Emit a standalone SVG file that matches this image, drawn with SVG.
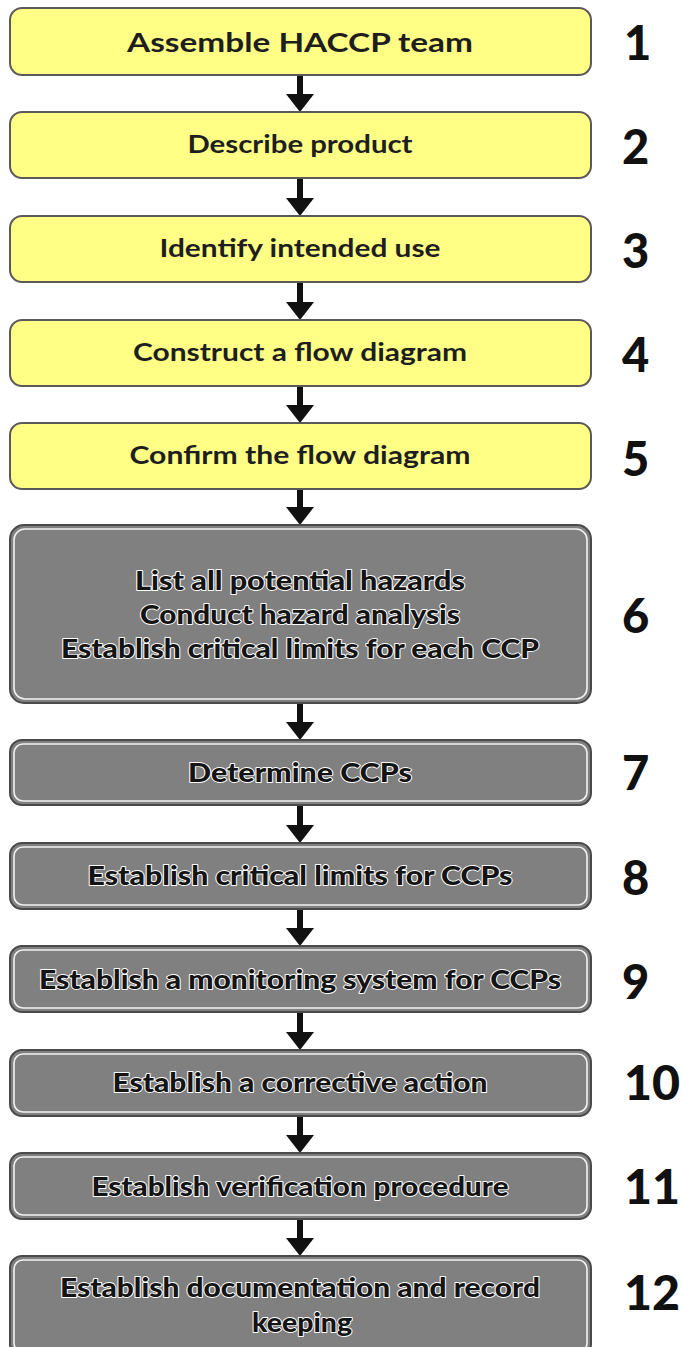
<svg xmlns="http://www.w3.org/2000/svg" width="683" height="1347" viewBox="0 0 683 1347">
  <style>
    .yel { fill: #ffff86; stroke: #5a5a5a; stroke-width: 2; }
    .gry { fill: #808080; stroke: #4a4a4a; stroke-width: 2; }
    .gin { fill: none; stroke: #f2f2f2; stroke-width: 1.6; }
    .ty { font-family: Lato, "Liberation Sans", sans-serif; font-weight: bold; fill: #1e1e1e; text-anchor: middle; }
    .tg { font-family: Lato, "Liberation Sans", sans-serif; font-weight: 900; font-size: 26px; fill: #141414; text-anchor: middle; stroke: #ffffff; stroke-width: 1.8; stroke-linejoin: round; paint-order: stroke; }
    .num { font-family: Lato, "Liberation Sans", sans-serif; font-weight: 900; font-size: 47px; fill: #111; }
    .stem { stroke: #111; stroke-width: 6; }
  </style>
  <defs>
    <marker id="head" markerUnits="userSpaceOnUse" markerWidth="18" markerHeight="28" refX="7" refY="14" orient="auto">
      <path d="M0,0 L18,14 L0,28 Z" fill="#111"/>
    </marker>
  </defs>
  <rect width="683" height="1347" fill="#ffffff"/>

  <!-- connectors: each stem ends 11px above the next box so the head tip touches it -->
  <g id="connectors">
    <line class="stem" x1="300" y1="76" x2="300" y2="101" marker-end="url(#head)"/>
    <line class="stem" x1="300" y1="179" x2="300" y2="205" marker-end="url(#head)"/>
    <line class="stem" x1="300" y1="283" x2="300" y2="309" marker-end="url(#head)"/>
    <line class="stem" x1="300" y1="387" x2="300" y2="412" marker-end="url(#head)"/>
    <line class="stem" x1="300" y1="490" x2="300" y2="514" marker-end="url(#head)"/>
    <line class="stem" x1="300" y1="704" x2="300" y2="729" marker-end="url(#head)"/>
    <line class="stem" x1="300" y1="806" x2="300" y2="832" marker-end="url(#head)"/>
    <line class="stem" x1="300" y1="910" x2="300" y2="935" marker-end="url(#head)"/>
    <line class="stem" x1="300" y1="1013" x2="300" y2="1039" marker-end="url(#head)"/>
    <line class="stem" x1="300" y1="1117" x2="300" y2="1142" marker-end="url(#head)"/>
    <line class="stem" x1="300" y1="1220" x2="300" y2="1245" marker-end="url(#head)"/>
  </g>

  <g id="step1">
    <rect class="yel" x="10" y="8" width="581" height="67" rx="12"/>
    <text class="ty" x="300" y="52" font-size="27" textLength="346" lengthAdjust="spacingAndGlyphs">Assemble HACCP team</text>
    <text class="num" x="624" y="60">1</text>
  </g>
  <g id="step2">
    <rect class="yel" x="10" y="112" width="581" height="66" rx="12"/>
    <text class="ty" x="300" y="153" font-size="24" textLength="225" lengthAdjust="spacingAndGlyphs">Describe product</text>
    <text class="num" x="622" y="164">2</text>
  </g>
  <g id="step3">
    <rect class="yel" x="10" y="216" width="581" height="66" rx="12"/>
    <text class="ty" x="300" y="257" font-size="24" textLength="281" lengthAdjust="spacingAndGlyphs">Identify intended use</text>
    <text class="num" x="622" y="268">3</text>
  </g>
  <g id="step4">
    <rect class="yel" x="10" y="320" width="581" height="66" rx="12"/>
    <text class="ty" x="300" y="361" font-size="24" textLength="334" lengthAdjust="spacingAndGlyphs">Construct a flow diagram</text>
    <text class="num" x="622" y="372">4</text>
  </g>
  <g id="step5">
    <rect class="yel" x="10" y="423" width="581" height="66" rx="12"/>
    <text class="ty" x="300" y="464" font-size="24" textLength="341" lengthAdjust="spacingAndGlyphs">Confirm the flow diagram</text>
    <text class="num" x="622" y="476">5</text>
  </g>

  <g id="step6">
    <rect class="gry" x="10" y="525" width="581" height="178" rx="14"/>
    <rect class="gin" x="14" y="529" width="573" height="170" rx="11"/>
    <text class="tg" x="300" y="590" textLength="330" lengthAdjust="spacingAndGlyphs">List all potential hazards</text>
    <text class="tg" x="300" y="624" textLength="320" lengthAdjust="spacingAndGlyphs">Conduct hazard analysis</text>
    <text class="tg" x="300" y="658" textLength="478" lengthAdjust="spacingAndGlyphs">Establish critical limits for each CCP</text>
    <text class="num" x="622" y="633">6</text>
  </g>
  <g id="step7">
    <rect class="gry" x="10" y="740" width="581" height="65" rx="12"/>
    <rect class="gin" x="14" y="744" width="573" height="57" rx="9"/>
    <text class="tg" x="300" y="782" textLength="224" lengthAdjust="spacingAndGlyphs">Determine CCPs</text>
    <text class="num" x="622" y="790">7</text>
  </g>
  <g id="step8">
    <rect class="gry" x="10" y="843" width="581" height="66" rx="12"/>
    <rect class="gin" x="14" y="847" width="573" height="58" rx="9"/>
    <text class="tg" x="300" y="885" textLength="425" lengthAdjust="spacingAndGlyphs">Establish critical limits for CCPs</text>
    <text class="num" x="622" y="895">8</text>
  </g>
  <g id="step9">
    <rect class="gry" x="10" y="946" width="581" height="66" rx="12"/>
    <rect class="gin" x="14" y="950" width="573" height="58" rx="9"/>
    <text class="tg" x="300" y="989" textLength="522" lengthAdjust="spacingAndGlyphs">Establish a monitoring system for CCPs</text>
    <text class="num" x="622" y="999">9</text>
  </g>
  <g id="step10">
    <rect class="gry" x="10" y="1050" width="581" height="66" rx="12"/>
    <rect class="gin" x="14" y="1054" width="573" height="58" rx="9"/>
    <text class="tg" x="300" y="1092" textLength="375" lengthAdjust="spacingAndGlyphs">Establish a corrective action</text>
    <text class="num" x="624" y="1100" textLength="56" lengthAdjust="spacingAndGlyphs">10</text>
  </g>
  <g id="step11">
    <rect class="gry" x="10" y="1153" width="581" height="66" rx="12"/>
    <rect class="gin" x="14" y="1157" width="573" height="58" rx="9"/>
    <text class="tg" x="300" y="1196" textLength="417" lengthAdjust="spacingAndGlyphs">Establish verification procedure</text>
    <text class="num" x="624" y="1204" textLength="56" lengthAdjust="spacingAndGlyphs">11</text>
  </g>
  <g id="step12">
    <rect class="gry" x="10" y="1256" width="581" height="100" rx="12"/>
    <rect class="gin" x="14" y="1260" width="573" height="92" rx="9"/>
    <text class="tg" x="300" y="1297" textLength="480" lengthAdjust="spacingAndGlyphs">Establish documentation and record</text>
    <text class="tg" x="302" y="1332" textLength="100" lengthAdjust="spacingAndGlyphs">keeping</text>
    <text class="num" x="624" y="1310" textLength="56" lengthAdjust="spacingAndGlyphs">12</text>
  </g>
</svg>
